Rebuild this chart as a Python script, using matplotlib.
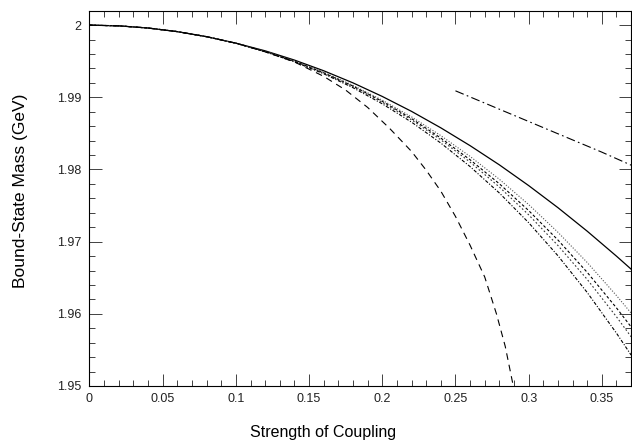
import matplotlib.pyplot as plt
from matplotlib.ticker import MultipleLocator

plt.rcParams['font.family'] = ['Liberation Sans', 'DejaVu Sans']

# coupling values where curves were read
x = [0.0, 0.02, 0.04, 0.06, 0.08, 0.10, 0.12, 0.14, 0.16, 0.18, 0.20,
     0.22, 0.24, 0.26, 0.28, 0.30, 0.32, 0.34, 0.36, 0.37]

# solid curve
m_solid = [2.0, 1.9999, 1.9996, 1.9991, 1.9984, 1.9975, 1.99644, 1.99516,
           1.99368, 1.99200, 1.99012, 1.98805, 1.98577, 1.98330, 1.98064,
           1.97777, 1.97471, 1.97145, 1.96799, 1.96619]

# the bundle of four curves just below the solid one
m_dot = [2.0, 1.9999, 1.9996, 1.9991, 1.9984, 1.9975, 1.99637, 1.99504,
         1.99347, 1.99166, 1.98960, 1.98729, 1.98469, 1.98181, 1.97864,
         1.97514, 1.97130, 1.96711, 1.96253, 1.96010]
m_dash1 = [2.0, 1.9999, 1.9996, 1.9991, 1.9984, 1.9975, 1.99635, 1.99500,
           1.99340, 1.99155, 1.98944, 1.98705, 1.98435, 1.98135, 1.97802,
           1.97431, 1.97023, 1.96575, 1.96082, 1.95819]
m_dash2 = [2.0, 1.9999, 1.9996, 1.9991, 1.9984, 1.9975, 1.99634, 1.99497,
           1.99335, 1.99148, 1.98932, 1.98688, 1.98411, 1.98102, 1.97757,
           1.97372, 1.96947, 1.96477, 1.95959, 1.95682]
m_dashdot = [2.0, 1.9999, 1.9996, 1.9991, 1.9984, 1.9975, 1.99631, 1.99492,
             1.99326, 1.99133, 1.98910, 1.98656, 1.98366, 1.98040, 1.97674,
             1.97263, 1.96805, 1.96296, 1.95732, 1.95429]

# steep long-dashed curve
x_long = [0.0, 0.02, 0.04, 0.06, 0.08, 0.10, 0.12, 0.14, 0.16, 0.175,
          0.19, 0.205, 0.22, 0.23, 0.24, 0.25, 0.26, 0.27, 0.278, 0.284,
          0.2895]
m_long = [2.0, 1.9999, 1.9996, 1.9991, 1.9984, 1.9975, 1.9963, 1.9949,
          1.9929, 1.9910, 1.9886, 1.9857, 1.9825, 1.9799, 1.9770, 1.9735,
          1.9695, 1.9651, 1.9600, 1.9555, 1.9500]

# upper right dash-dot line
x_upper = [0.25, 0.27, 0.29, 0.31, 0.33, 0.35, 0.37]
m_upper = [1.9909, 1.9892, 1.9875, 1.9858, 1.9841, 1.9824, 1.9806]

fig = plt.figure(figsize=(6.32, 4.42), dpi=100)
ax = fig.add_axes([0.1416, 0.1267, 0.857, 0.8491])

ax.plot(x, m_solid, color='black', lw=0.9)
ax.plot(x, m_dot, color='#555555', lw=0.8, ls=(0, (1, 1.5)))
ax.plot(x, m_dash1, color='black', lw=0.8, ls=(0, (2.5, 2)))
ax.plot(x, m_dash2, color='#333333', lw=0.8, ls=(0, (1.5, 2)))
ax.plot(x, m_dashdot, color='black', lw=0.8, ls=(0, (3, 1.5, 1, 1.5)))
ax.plot(x_long, m_long, color='black', lw=0.8, ls=(0, (6, 4.5)))
ax.plot(x_upper, m_upper, color='black', lw=0.8, ls=(0, (8, 3, 1.5, 3)))

ax.set_xlim(0, 0.37)
ax.set_ylim(1.95, 2.002)
ax.xaxis.set_minor_locator(MultipleLocator(0.01))
ax.yaxis.set_minor_locator(MultipleLocator(0.002))
ax.set_xticks([0, 0.05, 0.1, 0.15, 0.2, 0.25, 0.3, 0.35])
ax.set_xticklabels(['0', '0.05', '0.1', '0.15', '0.2', '0.25', '0.3', '0.35'])
ax.set_yticks([1.95, 1.96, 1.97, 1.98, 1.99, 2.0])
ax.set_yticklabels(['1.95', '1.96', '1.97', '1.98', '1.99', '2'])

ax.tick_params(which='both', direction='in', top=True, right=True,
               width=0.6, labelsize=9, colors='#222222')
ax.tick_params(which='major', length=9)
ax.tick_params(which='minor', length=4.3)
ax.tick_params(axis='x', pad=5)
ax.tick_params(axis='y', pad=6)
for s in ax.spines.values():
    s.set_linewidth(0.8)

ax.set_xlabel('Strength of Coupling', fontsize=11.5)
ax.xaxis.set_label_coords(0.432, -0.105)
ax.set_ylabel('Bound-State Mass (GeV)', fontsize=12.5)
ax.yaxis.set_label_coords(-0.113, 0.521)

plt.savefig('out.png', dpi=100)
